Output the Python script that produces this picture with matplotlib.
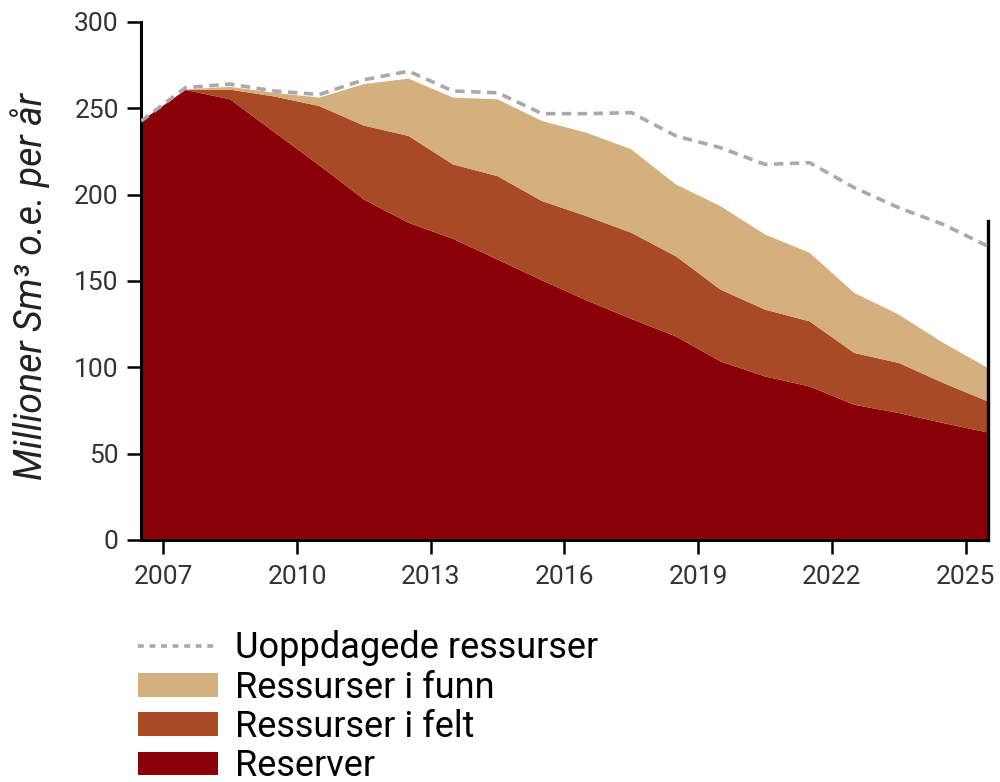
import matplotlib
matplotlib.use("Agg")
import matplotlib.pyplot as plt
from matplotlib.lines import Line2D
from matplotlib.patches import Patch
import numpy as np

plt.rcParams['font.family'] = ['Roboto', 'DejaVu Sans']

# x positions: mid-year points 2006.5 .. 2025.5
years = [2006.5, 2007.5, 2008.5, 2009.5, 2010.5, 2011.5, 2012.5, 2013.5, 2014.5, 2015.5,
         2016.5, 2017.5, 2018.5, 2019.5, 2020.5, 2021.5, 2022.5, 2023.5, 2024.5, 2025.5]

reserver = [242.6, 260.6, 255.2, 236.0, 217.0, 197.2, 183.7, 174.4, 162.4, 150.3,
            138.7, 128.0, 117.9, 103.4, 94.7, 88.9, 78.3, 73.5, 67.7, 62.2]
ressurser_felt = [0.0, 0.2, 5.6, 20.8, 34.3, 42.8, 50.3, 43.1, 48.3, 45.9,
                  48.8, 49.9, 46.4, 41.6, 38.7, 37.7, 30.0, 29.0, 23.2, 18.0]
ressurser_funn = [0.0, 0.2, 1.6, 2.2, 4.9, 24.0, 33.2, 38.7, 44.5, 46.4,
                  48.3, 48.3, 41.6, 48.3, 43.5, 39.7, 34.8, 28.0, 23.2, 19.4]
uoppdagede = [0.0, 1.0, 1.6, 1.0, 1.8, 2.5, 4.3, 3.8, 3.8, 4.3,
              11.1, 21.3, 28.1, 33.9, 40.6, 52.2, 60.9, 61.9, 68.6, 70.5]

xticks = [2007, 2010, 2013, 2016, 2019, 2022, 2025]
yticks = [0, 50, 100, 150, 200, 250, 300]

labels = ["Uoppdagede ressurser", "Ressurser i funn", "Ressurser i felt", "Reserver"]
c_res = "#8a0007"
c_felt = "#a84a23"
c_funn = "#d3b07e"
c_dash = "#a9a9ab"

fig = plt.figure(figsize=(10, 7.82), dpi=100)
ax = fig.add_axes([0.141, 0.3095, 0.847, 0.6624])

ax.stackplot(years, reserver, ressurser_felt, ressurser_funn,
             colors=[c_res, c_felt, c_funn], linewidth=0, antialiased=True)
total = np.array(reserver) + np.array(ressurser_felt) + np.array(ressurser_funn) + np.array(uoppdagede)
ax.plot(years, total, color=c_dash, linestyle=(0, (2.6, 1.8)), linewidth=2.6, zorder=5)

ax.set_xlim(2006.5, 2025.5)
ax.set_ylim(0, 300)
ax.set_xticks(xticks)
ax.set_yticks(yticks)
ax.tick_params(axis='both', direction='out', length=10, width=1.8, color='black',
               labelsize=19, labelcolor='#333333')
ax.tick_params(axis='x', pad=8)
ax.tick_params(axis='y', pad=6)
for s in ['top', 'right']:
    ax.spines[s].set_visible(False)
for s in ['left', 'bottom']:
    ax.spines[s].set_linewidth(2.2)
    ax.spines[s].set_color('black')
ax.axvline(2025.5, ymin=0, ymax=185 / 300, color='black', linewidth=2.4, clip_on=False)

ax.set_ylabel("Millioner Sm³ o.e. per år", fontsize=27, style='italic', color='#222222')
ax.yaxis.set_label_coords(-0.108, 0.49)

handles = [Line2D([0], [0], color=c_dash, linestyle=(0, (1.6, 1.6)), linewidth=2.6),
           Patch(facecolor=c_funn, edgecolor='none'),
           Patch(facecolor=c_felt, edgecolor='none'),
           Patch(facecolor=c_res, edgecolor='none')]
fig.legend(handles, labels, loc='upper left', bbox_to_anchor=(0.138, 0.194),
           frameon=False, fontsize=26, handlelength=2.22, handleheight=0.62,
           handletextpad=0.47, labelspacing=0.09, borderpad=0.0, borderaxespad=0.0)

fig.savefig("out.png", dpi=100)
